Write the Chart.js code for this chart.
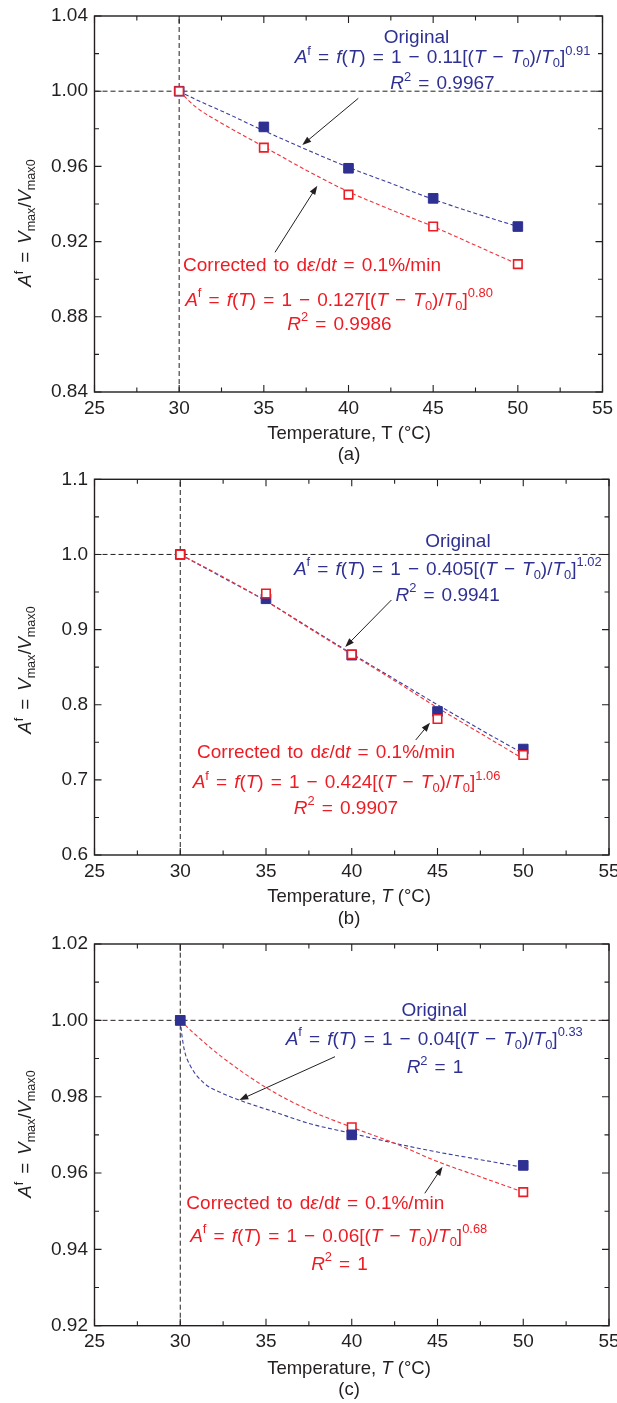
<!DOCTYPE html>
<html>
<head>
<meta charset="utf-8">
<script src="https://cdn.jsdelivr.net/npm/chart.js@4.4.1/dist/chart.umd.min.js"></script>
<style>
  html, body { margin: 0; padding: 0; background: #fff; }
  #page { position: relative; width: 617px; height: 1403px; overflow: hidden; background: #fff; }
  #page canvas { position: absolute; left: 0; }
</style>
</head>
<body>
<div id="page">
  <canvas id="panelA" width="617" height="466" style="top:0px"></canvas>
  <canvas id="panelB" width="617" height="464" style="top:466px"></canvas>
  <canvas id="panelC" width="617" height="473" style="top:930px"></canvas>
</div>
<script>
// ---------------------------------------------------------------
// Data
// ---------------------------------------------------------------
const X_TICKS = [25, 30, 35, 40, 45, 50, 55];
const REF_T = 30;       // T0 reference line
const REF_RATIO = 1.0;  // A^f = 1 reference line

// (a)
const T_A = [30, 35, 40, 45, 50];
const ORIGINAL_A = [1.000, 0.981, 0.959, 0.943, 0.928];
const CORRECTED_A = [1.000, 0.970, 0.945, 0.928, 0.908];
const FIT_T_A = [30, 31, 32.5, 35, 37.5, 40, 42.5, 45, 47.5, 50];
const FIT_ORIGINAL_A = [1.000, 0.9955, 0.9895, 0.979, 0.969, 0.9595, 0.951, 0.9425, 0.935, 0.928];
const FIT_CORRECTED_A = [1.000, 0.9915, 0.983, 0.9705, 0.958, 0.9465, 0.937, 0.928, 0.918, 0.908];
const Y_TICKS_A = [0.84, 0.88, 0.92, 0.96, 1.00, 1.04];

// (b)
const T_B = [30, 35, 40, 45, 50];
const ORIGINAL_B = [1.000, 0.941, 0.866, 0.791, 0.741];
const CORRECTED_B = [1.000, 0.948, 0.867, 0.781, 0.733];
const FIT_T_B = [30, 32.5, 35, 37.5, 40, 42.5, 45, 47.5, 50];
const FIT_ORIGINAL_B = [1.000, 0.969, 0.938, 0.903, 0.868, 0.834, 0.800, 0.767, 0.735];
const FIT_CORRECTED_B = [1.000, 0.970, 0.938, 0.902, 0.867, 0.832, 0.796, 0.762, 0.728];
const Y_TICKS_B = [0.6, 0.7, 0.8, 0.9, 1.0, 1.1];

// (c)
const T_C = [30, 40, 50];
const ORIGINAL_C = [1.000, 0.970, 0.962];
const CORRECTED_C = [1.000, 0.972, 0.955];
const FIT_T_ORIGINAL_C = [30, 30.1, 30.25, 30.6, 31.4, 32.4, 33.5, 35.5, 37.5, 40, 42.5, 45, 47.5, 50];
const FIT_ORIGINAL_C = [1.000, 0.996, 0.992, 0.988, 0.9835, 0.981, 0.979, 0.976, 0.973, 0.9704, 0.9678, 0.9655, 0.9635, 0.9615];
const FIT_T_CORRECTED_C = [30, 30.8, 32.4, 35, 37.5, 40, 42.5, 45, 47.5, 50];
const FIT_CORRECTED_C = [1.000, 0.9966, 0.9905, 0.9824, 0.9765, 0.972, 0.9678, 0.963, 0.959, 0.955];
const Y_TICKS_C = [0.92, 0.94, 0.96, 0.98, 1.00, 1.02];

// ---------------------------------------------------------------
// Look
// ---------------------------------------------------------------
const FONT = '"Liberation Sans", Arial, Helvetica, sans-serif';
const INK = '#231f20';
const BLUE = '#2e3192';
const RED = '#ed1c24';
const BLUE_LINE = '#3a3f9e';
const RED_LINE = '#f0323a';
const NOTE_SIZE = 19;

const pairs = (xs, ys) => xs.map((x, i) => ({ x: x, y: ys[i] }));

// ---------------------------------------------------------------
// Rich text: *italic*, ^{sup}, _{sub}
// ---------------------------------------------------------------
function parseRich(src) {
    const runs = [];
    let i = 0, italic = false, buf = '';
    const flush = () => {
        if (buf) runs.push({ t: buf, i: italic, mode: 'base' });
        buf = '';
    };
    while (i < src.length) {
        const ch = src[i];
        if (ch === '*') {
            flush();
            italic = !italic;
            i++;
        } else if ((ch === '^' || ch === '_') && src[i + 1] === '{') {
            flush();
            const end = src.indexOf('}', i);
            runs.push({ t: src.slice(i + 2, end), i: false, mode: ch === '^' ? 'sup' : 'sub' });
            i = end + 1;
        } else {
            buf += ch;
            i++;
        }
    }
    flush();
    return runs;
}

// spaceExtra widens each blank a little (the figure sets its equations loosely)
function drawRich(ctx, src, x, y, size, color, align, spaceExtra) {
    const extra = spaceExtra || 0;
    const runs = parseRich(src).map(r => {
        const s = r.mode === 'base' ? size : size * 0.68;
        const font = (r.i ? 'italic ' : '') + s + 'px ' + FONT;
        ctx.font = font;
        let dy = 0;
        if (r.mode === 'sup') dy = -size * 0.45;
        if (r.mode === 'sub') dy = size * 0.22;
        const words = r.t.split(' ');
        const sp = ctx.measureText(' ').width + extra;
        const ws = words.map(w => ctx.measureText(w).width);
        const w = ws.reduce((s, v) => s + v, 0) + sp * (words.length - 1);
        return { words: words, ws: ws, sp: sp, font: font, w: w, dy: dy };
    });
    const total = runs.reduce((s, r) => s + r.w, 0);
    let cx = align === 'left' ? x : x - total / 2;
    ctx.fillStyle = color;
    ctx.textBaseline = 'alphabetic';
    ctx.textAlign = 'left';
    runs.forEach(r => {
        ctx.font = r.font;
        r.words.forEach((wd, k) => {
            if (wd) ctx.fillText(wd, cx, y + r.dy);
            cx += r.ws[k] + (k < r.words.length - 1 ? r.sp : 0);
        });
    });
}

function drawArrow(ctx, x1, y1, x2, y2) {
    const ang = Math.atan2(y2 - y1, x2 - x1);
    const len = 9, half = 3.2;
    ctx.save();
    ctx.strokeStyle = INK;
    ctx.fillStyle = INK;
    ctx.lineWidth = 1;
    ctx.beginPath();
    ctx.moveTo(x1, y1);
    ctx.lineTo(x2 - Math.cos(ang) * len * 0.8, y2 - Math.sin(ang) * len * 0.8);
    ctx.stroke();
    ctx.beginPath();
    ctx.moveTo(x2, y2);
    ctx.lineTo(x2 - Math.cos(ang) * len - Math.sin(ang) * half, y2 - Math.sin(ang) * len + Math.cos(ang) * half);
    ctx.lineTo(x2 - Math.cos(ang) * len + Math.sin(ang) * half, y2 - Math.sin(ang) * len - Math.cos(ang) * half);
    ctx.closePath();
    ctx.fill();
    ctx.restore();
}

// ---------------------------------------------------------------
// Plugin: reference lines, boxed frame with inward ticks, titles, notes
// ---------------------------------------------------------------
const panelDecor = {
    id: 'panelDecor',
    beforeDatasetsDraw(chart) {
        const { ctx, chartArea: a, scales: { x, y } } = chart;
        const px = x.getPixelForValue(REF_T);
        const py = y.getPixelForValue(REF_RATIO);
        ctx.save();
        ctx.strokeStyle = INK;
        ctx.lineWidth = 1;
        ctx.setLineDash([5, 3]);
        ctx.beginPath();
        ctx.moveTo(px, a.bottom);
        ctx.lineTo(px, a.top);
        ctx.moveTo(a.left, py);
        ctx.lineTo(a.right, py);
        ctx.stroke();
        ctx.restore();
    },
    afterDatasetsDraw(chart, args, opts) {
        const { ctx, chartArea: a, scales: { x, y } } = chart;
        const MAJOR = 7, MINOR = 4.5;

        ctx.save();
        ctx.strokeStyle = INK;
        ctx.lineWidth = 1.4;
        ctx.strokeRect(a.left, a.top, a.right - a.left, a.bottom - a.top);

        ctx.lineWidth = 1.1;
        ctx.beginPath();
        const xv = x.ticks.map(t => t.value);
        xv.forEach((v, k) => {
            const p = x.getPixelForValue(v);
            ctx.moveTo(p, a.bottom); ctx.lineTo(p, a.bottom - MAJOR);
            ctx.moveTo(p, a.top); ctx.lineTo(p, a.top + MAJOR);
            if (k < xv.length - 1) {
                const m = x.getPixelForValue((v + xv[k + 1]) / 2);
                ctx.moveTo(m, a.bottom); ctx.lineTo(m, a.bottom - MINOR);
                ctx.moveTo(m, a.top); ctx.lineTo(m, a.top + MINOR);
            }
        });
        const yv = y.ticks.map(t => t.value);
        yv.forEach((v, k) => {
            const p = y.getPixelForValue(v);
            ctx.moveTo(a.left, p); ctx.lineTo(a.left + MAJOR, p);
            ctx.moveTo(a.right, p); ctx.lineTo(a.right - MAJOR, p);
            if (k < yv.length - 1) {
                const m = y.getPixelForValue((v + yv[k + 1]) / 2);
                ctx.moveTo(a.left, m); ctx.lineTo(a.left + MINOR, m);
                ctx.moveTo(a.right, m); ctx.lineTo(a.right - MINOR, m);
            }
        });
        ctx.stroke();

        // axis titles
        drawRich(ctx, opts.xTitle, 349, opts.xTitleY, 18.5, INK, 'center');
        drawRich(ctx, opts.tag, 349, opts.tagY, 18.5, INK, 'center');
        ctx.save();
        ctx.translate(31, opts.yTitleY);
        ctx.rotate(-Math.PI / 2);
        drawRich(ctx, '*A*^{f} = *V*_{max}/*V*_{max0}', 0, 0, 18.5, INK, 'center', 3);
        ctx.restore();

        // notes and arrows
        opts.notes.forEach(n => drawRich(ctx, n.text, n.x, n.y, NOTE_SIZE, n.color, 'center', 1.8));
        opts.arrows.forEach(r => drawArrow(ctx, r[0], r[1], r[2], r[3]));
        ctx.restore();
    }
};

// ---------------------------------------------------------------
// Build one panel
// ---------------------------------------------------------------
function makePanel(p) {
    const canvas = document.getElementById(p.id);
    const H = canvas.height;
    const a = p.area;

    const fitStyle = (color) => ({
        borderColor: color,
        borderWidth: 1.1,
        borderDash: [4, 2.5],
        pointRadius: 0,
        fill: false,
        cubicInterpolationMode: 'monotone'
    });

    return new Chart(canvas, {
        type: 'line',
        data: {
            datasets: [
                Object.assign({ label: 'Original fit', data: p.fitOriginal, order: 4 }, fitStyle(BLUE_LINE)),
                Object.assign({ label: 'Corrected fit', data: p.fitCorrected, order: 3 }, fitStyle(RED_LINE)),
                {
                    label: 'Original',
                    data: p.original,
                    showLine: false,
                    pointStyle: 'rect',
                    pointRadius: 6.8,
                    pointBackgroundColor: BLUE,
                    pointBorderColor: BLUE,
                    pointBorderWidth: 1,
                    order: p.blueOnTop ? 0 : 1
                },
                {
                    label: 'Corrected to 0.1%/min',
                    data: p.corrected,
                    showLine: false,
                    pointStyle: 'rect',
                    pointRadius: 6,
                    pointBackgroundColor: '#ffffff',
                    pointBorderColor: RED,
                    pointBorderWidth: 1.6,
                    order: p.blueOnTop ? 1 : 0
                }
            ]
        },
        options: {
            responsive: false,
            devicePixelRatio: 1,
            animation: false,
            events: [],
            layout: { padding: { left: 0, top: a.top, right: 617 - a.right, bottom: 0 } },
            scales: {
                x: {
                    type: 'linear',
                    min: 25,
                    max: 55,
                    afterBuildTicks: s => { s.ticks = X_TICKS.map(v => ({ value: v })); },
                    afterFit: s => { s.height = H - a.bottom; s.paddingLeft = 0; s.paddingRight = 0; },
                    ticks: {
                        autoSkip: false,
                        maxRotation: 0,
                        padding: 5,
                        color: INK,
                        font: { family: FONT, size: 19 },
                        callback: v => String(v)
                    },
                    grid: { display: false, drawTicks: false },
                    border: { display: false }
                },
                y: {
                    type: 'linear',
                    min: p.yTicks[0],
                    max: p.yTicks[p.yTicks.length - 1],
                    afterBuildTicks: s => { s.ticks = p.yTicks.map(v => ({ value: v })); },
                    afterFit: s => { s.width = a.left; s.paddingTop = 0; s.paddingBottom = 0; },
                    ticks: {
                        autoSkip: false,
                        padding: 6.5,
                        color: INK,
                        font: { family: FONT, size: 19 },
                        callback: v => Number(v).toFixed(p.yDigits)
                    },
                    grid: { display: false, drawTicks: false },
                    border: { display: false }
                }
            },
            plugins: {
                legend: { display: false },
                tooltip: { enabled: false },
                panelDecor: {
                    xTitle: p.xTitle,
                    xTitleY: p.xTitleY,
                    tag: p.tag,
                    tagY: p.tagY,
                    yTitleY: p.yTitleY,
                    notes: p.notes,
                    arrows: p.arrows
                }
            }
        },
        plugins: [panelDecor]
    });
}

const ORIGINAL_LABEL = 'Original';
const CORRECTED_LABEL = 'Corrected to d*ε*/d*t* = 0.1%/min';

makePanel({
    id: 'panelA',
    area: { left: 94.5, right: 602.5, top: 16, bottom: 392 },
    yTicks: Y_TICKS_A, yDigits: 2,
    original: pairs(T_A, ORIGINAL_A),
    corrected: pairs(T_A, CORRECTED_A),
    fitOriginal: pairs(FIT_T_A, FIT_ORIGINAL_A),
    fitCorrected: pairs(FIT_T_A, FIT_CORRECTED_A),
    blueOnTop: false,
    xTitle: 'Temperature, T (°C)', xTitleY: 439,
    tag: '(a)', tagY: 460,
    yTitleY: 223,
    notes: [
        { text: ORIGINAL_LABEL, x: 416.5, y: 43.3, color: BLUE },
        { text: '*A*^{f} = *f*(*T*) = 1 − 0.11[(*T* − *T*_{0})/*T*_{0}]^{0.91}', x: 442.5, y: 63.3, color: BLUE },
        { text: '*R*^{2} = 0.9967', x: 442.5, y: 89.3, color: BLUE },
        { text: CORRECTED_LABEL, x: 312, y: 270.7, color: RED },
        { text: '*A*^{f} = *f*(*T*) = 1 − 0.127[(*T* − *T*_{0})/*T*_{0}]^{0.80}', x: 339, y: 305.7, color: RED },
        { text: '*R*^{2} = 0.9986', x: 339.5, y: 330, color: RED }
    ],
    arrows: [[358.3, 98.3, 302.3, 145], [275, 252.3, 317.3, 185.7]]
});

makePanel({
    id: 'panelB',
    area: { left: 94.5, right: 609, top: 13.3, bottom: 389 },
    yTicks: Y_TICKS_B, yDigits: 1,
    original: pairs(T_B, ORIGINAL_B),
    corrected: pairs(T_B, CORRECTED_B),
    fitOriginal: pairs(FIT_T_B, FIT_ORIGINAL_B),
    fitCorrected: pairs(FIT_T_B, FIT_CORRECTED_B),
    blueOnTop: false,
    xTitle: 'Temperature, *T* (°C)', xTitleY: 435.7,
    tag: '(b)', tagY: 457.5,
    yTitleY: 204,
    notes: [
        { text: ORIGINAL_LABEL, x: 457.9, y: 81.3, color: BLUE },
        { text: '*A*^{f} = *f*(*T*) = 1 − 0.405[(*T* − *T*_{0})/*T*_{0}]^{1.02}', x: 447.8, y: 109, color: BLUE },
        { text: '*R*^{2} = 0.9941', x: 447.6, y: 134.7, color: BLUE },
        { text: CORRECTED_LABEL, x: 326, y: 292, color: RED },
        { text: '*A*^{f} = *f*(*T*) = 1 − 0.424[(*T* − *T*_{0})/*T*_{0}]^{1.06}', x: 346.5, y: 322.3, color: RED },
        { text: '*R*^{2} = 0.9907', x: 346, y: 348, color: RED }
    ],
    arrows: [[391.4, 134, 345.2, 181], [415.7, 274, 430, 256.7]]
});

makePanel({
    id: 'panelC',
    area: { left: 94.5, right: 609, top: 14, bottom: 395.7 },
    yTicks: Y_TICKS_C, yDigits: 2,
    original: pairs(T_C, ORIGINAL_C),
    corrected: pairs(T_C, CORRECTED_C),
    fitOriginal: pairs(FIT_T_ORIGINAL_C, FIT_ORIGINAL_C),
    fitCorrected: pairs(FIT_T_CORRECTED_C, FIT_CORRECTED_C),
    blueOnTop: true,
    xTitle: 'Temperature, *T* (°C)', xTitleY: 444,
    tag: '(c)', tagY: 465,
    yTitleY: 204,
    notes: [
        { text: ORIGINAL_LABEL, x: 434.2, y: 85.7, color: BLUE },
        { text: '*A*^{f} = *f*(*T*) = 1 − 0.04[(*T* − *T*_{0})/*T*_{0}]^{0.33}', x: 434.2, y: 115, color: BLUE },
        { text: '*R*^{2} = 1', x: 435, y: 143.3, color: BLUE },
        { text: CORRECTED_LABEL, x: 315.3, y: 279.3, color: RED },
        { text: '*A*^{f} = *f*(*T*) = 1 − 0.06[(*T* − *T*_{0})/*T*_{0}]^{0.68}', x: 338.7, y: 311.7, color: RED },
        { text: '*R*^{2} = 1', x: 339.5, y: 340, color: RED }
    ],
    arrows: [[335, 126.7, 239.3, 170], [424.8, 263.3, 442.5, 236.7]]
});
</script>
</body>
</html>
